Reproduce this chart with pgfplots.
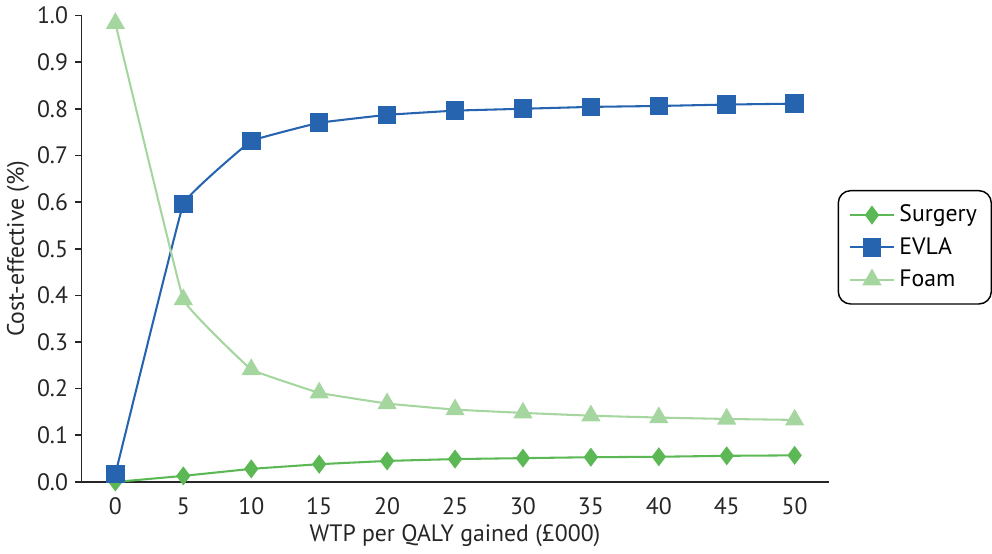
\documentclass[border=0pt]{standalone}
\usepackage{pgfplots}
\pgfplotsset{compat=1.18}
\usepackage{fontspec}
\setmainfont{PT Sans}
\definecolor{surg}{RGB}{92,184,84}
\definecolor{evla}{RGB}{38,100,176}
\definecolor{foam}{RGB}{166,214,160}
\begin{document}
\begin{tikzpicture}
\begin{axis}[
  scale only axis,
  width=362pt, height=226pt,
  xmin=-2.5, xmax=52.5, ymin=0, ymax=1,
  axis lines*=left,
  axis line style={-, line width=0.8pt, black!85},
  xtick={0,5,...,50},
  minor xtick={-2.5,2.5,...,52.5},
  ytick={0,0.1,...,1.0},
  yticklabel style={/pgf/number format/.cd, fixed, fixed zerofill, precision=1},
  /pgf/number format/assume math mode=true,
  tick align=outside,
  xtick style={draw=none},
  minor x tick style={line width=0.8pt, black!85},
  minor tick length=4pt,
  y tick style={line width=0.8pt, black!85},
  major tick length=3pt,
  tick label style={font=\fontsize{11.5}{13}\selectfont, text=black!85},
  label style={font=\fontsize{11.5}{13}\selectfont, text=black!85},
  xticklabel style={yshift=-1pt},
  xlabel={WTP per QALY gained (£000)},
  ylabel={Cost-effective (\%)},
  xlabel style={yshift=2pt},
  ylabel style={yshift=-3pt},
  legend style={at={(rel axis cs:1.012,0.626)}, anchor=north west,
    draw=black, rounded corners=6pt, line width=0.7pt,
    font=\fontsize{11.5}{13}\selectfont, inner xsep=5pt, inner ysep=5pt,
    row sep=2pt, cells={anchor=west}},
  legend image code/.code={
    \draw[mark repeat=2,mark phase=2] plot coordinates {(0cm,0cm)(0.38cm,0cm)(0.76cm,0cm)};},
  legend cell align=left,
  clip=false,
]
\addplot[surg, line width=1pt, smooth, tension=0.1, mark=diamond*, mark size=3.8pt, mark options={fill=surg, draw=surg}]
coordinates {(0,0.0)(5,0.013)(10,0.028)(15,0.038)(20,0.045)(25,0.049)(30,0.051)(35,0.053)(40,0.054)(45,0.056)(50,0.057)};
\addlegendentry{Surgery}
\addplot[evla, line width=1pt, smooth, tension=0.1, mark=square*, mark size=4pt, mark options={fill=evla, draw=evla}]
coordinates {(0,0.017)(5,0.596)(10,0.731)(15,0.770)(20,0.787)(25,0.796)(30,0.800)(35,0.804)(40,0.806)(45,0.809)(50,0.811)};
\addlegendentry{EVLA}
\addplot[foam, line width=1pt, smooth, tension=0.1, mark=triangle*, mark size=4.4pt, mark options={fill=foam, draw=foam}]
coordinates {(0,0.983)(5,0.391)(10,0.241)(15,0.191)(20,0.168)(25,0.155)(30,0.148)(35,0.142)(40,0.138)(45,0.135)(50,0.133)};
\addlegendentry{Foam}
\end{axis}
\end{tikzpicture}
\end{document}
